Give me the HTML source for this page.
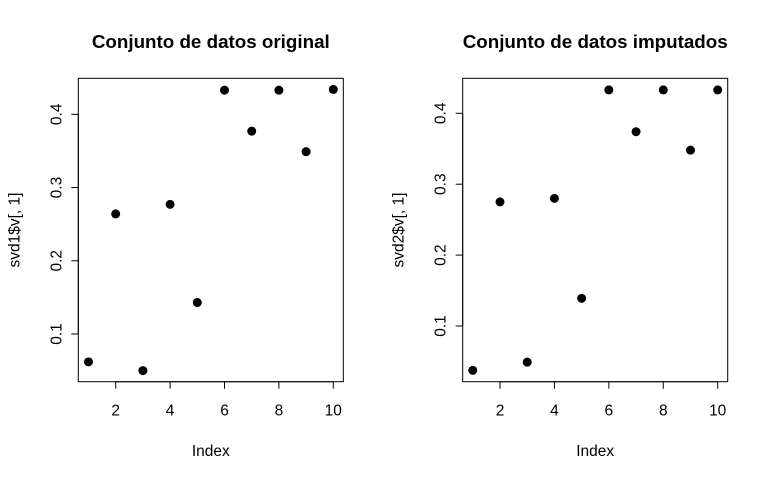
<!DOCTYPE html>
<html><head><meta charset="utf-8"><style>
body{margin:0;background:#fff}
svg{display:block;font-family:"Liberation Sans",Arial,sans-serif}
</style></head><body>
<svg id="c" width="768" height="480"></svg>
<script>
const indices=[1,2,3,4,5,6,7,8,9,10];
const original=[0.062,0.264,0.050,0.277,0.143,0.433,0.377,0.433,0.349,0.434];
const imputed=[0.0375,0.275,0.049,0.280,0.139,0.433,0.374,0.433,0.348,0.433];
const xTicks=[2,4,6,8,10];
const yTicks=[0.1,0.2,0.3,0.4];
const titles=["Conjunto de datos original","Conjunto de datos imputados"];
const yLabels=["svd1$v[, 1]","svd2$v[, 1]"];
const NS="http://www.w3.org/2000/svg";
const svg=document.getElementById('c');
function mk(t,a,p){const e=document.createElementNS(NS,t);for(const k in a)e.setAttribute(k,a[k]);(p||svg).appendChild(e);return e;}
const panels=[
 {L:78.3,R:343.3,T:78.3,B:381.7,x2:115.7,x10:333.3,y1:334,y4:114.3,data:original,name:'original'},
 {L:462.7,R:727.7,T:78.3,B:381.7,x2:500,x10:717.7,y1:326,y4:113.3,data:imputed,name:'imputed'}];
panels.forEach((p,i)=>{
 const g=mk('g',{});
 
 
 const xs=v=>p.x2+(v-2)*(p.x10-p.x2)/8;
 const ys=v=>p.y1-(v-0.1)*(p.y1-p.y4)/0.3;
 const box=mk('rect',{x:p.L,y:p.T,width:p.R-p.L,height:p.B-p.T,fill:'none',stroke:'#000','stroke-width':1},g);
 
 
 const cx=(p.L+p.R)/2;
 const t=mk('text',{x:cx,y:48,'text-anchor':'middle','font-size':18.8,'font-weight':'bold'},g);t.textContent=titles[i];
 
 
 const xl=mk('text',{x:cx,y:456,'text-anchor':'middle','font-size':15.5},g);xl.textContent='Index';
 
 
 const yl=mk('text',{x:0,y:0,'text-anchor':'middle','font-size':15.5,transform:`translate(${p.L-59},${(p.T+p.B)/2}) rotate(-90)`},g);yl.textContent=yLabels[i];
 
 
 mk('line',{x1:xs(xTicks[0]),x2:xs(xTicks[xTicks.length-1]),y1:p.B,y2:p.B,stroke:'#000'},g);
 xTicks.forEach(v=>{
  mk('line',{x1:xs(v),x2:xs(v),y1:p.B,y2:p.B+7,stroke:'#000'},g);
  const tl=mk('text',{x:xs(v),y:p.B+34,'text-anchor':'middle','font-size':15.5},g);tl.textContent=v;
  
  
 });
 mk('line',{x1:p.L,x2:p.L,y1:ys(yTicks[0]),y2:ys(yTicks[yTicks.length-1]),stroke:'#000'},g);
 yTicks.forEach(v=>{
  mk('line',{x1:p.L-7,x2:p.L,y1:ys(v),y2:ys(v),stroke:'#000'},g);
  const tl=mk('text',{x:0,y:0,'text-anchor':'middle','font-size':15.5,transform:`translate(${p.L-17},${ys(v)}) rotate(-90)`},g);tl.textContent=v.toFixed(1);
  
  
 });
 p.data.forEach((v,j)=>{
  const c=mk('circle',{cx:xs(indices[j]),cy:ys(v),r:4.5,fill:'#000'},g);
  
  
 });
});
</script>
</body></html>
